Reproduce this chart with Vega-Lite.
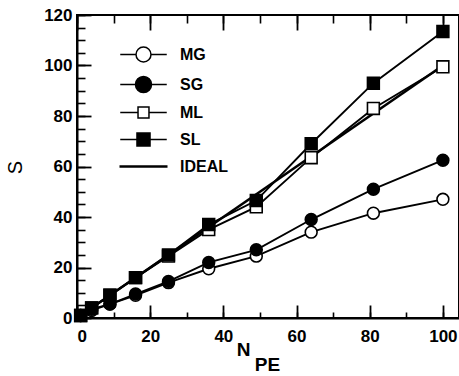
{
  "$schema": "https://vega.github.io/schema/vega-lite/v6.json",
  "width": 382,
  "height": 303,
  "autosize": "none",
  "padding": {"left": 77, "top": 15, "right": 0, "bottom": 58},
  "background": "white",
  "config": {
    "view": {"stroke": "black", "strokeWidth": 2},
    "font": "Liberation Sans",
    "axis": {
      "domainColor": "black",
      "domainWidth": 2,
      "labelColor": "black",
      "labelFont": "Liberation Sans",
      "labelFontSize": 17,
      "labelFontWeight": "bold",
      "titleColor": "black",
      "titleFont": "Liberation Sans",
      "grid": false
    }
  },
  "data": {
    "values": [
      {"series": "MG", "n": 1, "s": 1},
      {"series": "MG", "n": 4, "s": 3},
      {"series": "MG", "n": 9, "s": 5.5},
      {"series": "MG", "n": 16, "s": 9},
      {"series": "MG", "n": 25, "s": 14},
      {"series": "MG", "n": 36, "s": 19.5},
      {"series": "MG", "n": 49, "s": 24.5},
      {"series": "MG", "n": 64, "s": 34},
      {"series": "MG", "n": 81, "s": 41.5},
      {"series": "MG", "n": 100, "s": 47},
      {"series": "SG", "n": 1, "s": 1},
      {"series": "SG", "n": 4, "s": 3.5},
      {"series": "SG", "n": 9, "s": 5.5},
      {"series": "SG", "n": 16, "s": 9.5},
      {"series": "SG", "n": 25, "s": 14.5},
      {"series": "SG", "n": 36, "s": 22},
      {"series": "SG", "n": 49, "s": 27},
      {"series": "SG", "n": 64, "s": 39},
      {"series": "SG", "n": 81, "s": 51},
      {"series": "SG", "n": 100, "s": 62.5},
      {"series": "ML", "n": 1, "s": 1},
      {"series": "ML", "n": 4, "s": 4},
      {"series": "ML", "n": 9, "s": 9},
      {"series": "ML", "n": 16, "s": 16},
      {"series": "ML", "n": 25, "s": 24.5},
      {"series": "ML", "n": 36, "s": 35},
      {"series": "ML", "n": 49, "s": 44},
      {"series": "ML", "n": 64, "s": 63.5},
      {"series": "ML", "n": 81, "s": 83},
      {"series": "ML", "n": 100, "s": 99.5},
      {"series": "SL", "n": 1, "s": 1},
      {"series": "SL", "n": 4, "s": 4},
      {"series": "SL", "n": 9, "s": 9},
      {"series": "SL", "n": 16, "s": 16},
      {"series": "SL", "n": 25, "s": 25},
      {"series": "SL", "n": 36, "s": 37},
      {"series": "SL", "n": 49, "s": 46.5},
      {"series": "SL", "n": 64, "s": 69},
      {"series": "SL", "n": 81, "s": 93},
      {"series": "SL", "n": 100, "s": 113.5},
      {"series": "IDEAL", "n": 1, "s": 1},
      {"series": "IDEAL", "n": 100, "s": 100}
    ]
  },
  "encoding": {
    "x": {"field": "n", "type": "quantitative", "scale": {"domain": [0, 104.4], "nice": false, "zero": false}},
    "y": {"field": "s", "type": "quantitative", "scale": {"domain": [0, 120], "nice": false, "zero": false}}
  },
  "layer": [
    {
      "transform": [{"filter": "datum.series == 'IDEAL'"}],
      "mark": {"type": "line", "color": "black", "strokeWidth": 2.6},
      "encoding": {
        "x": {
          "field": "n", "type": "quantitative",
          "axis": {
            "orient": "bottom",
            "values": [0, 20, 40, 60, 80, 100],
            "ticks": false,
            "labelPadding": 10,
            "title": "N",
            "titleFontSize": 19,
            "titleFontWeight": "bold",
            "titleAlign": "center",
            "titleBaseline": "alphabetic",
            "titleX": 166,
            "titleY": 37
          }
        },
        "y": {
          "field": "s", "type": "quantitative",
          "axis": {
            "orient": "left",
            "values": [0, 20, 40, 60, 80, 100, 120],
            "ticks": false,
            "labelPadding": 5,
            "title": "S",
            "titleFontSize": 20,
            "titleFontWeight": "normal",
            "titleAlign": "center",
            "titleBaseline": "middle",
            "titleX": -62,
            "titleY": 152
          }
        }
      }
    },
    {
      "transform": [{"filter": "datum.series != 'IDEAL'"}],
      "mark": {"type": "line", "color": "black", "strokeWidth": 1.9},
      "encoding": {
        "detail": {"field": "series"},
        "x": {
          "field": "n", "type": "quantitative",
          "axis": {"orient": "top", "offset": -303, "tickCount": 5, "tickSize": 13, "tickColor": "black", "tickWidth": 1.8, "labels": false, "domain": false, "title": " "}
        },
        "y": {
          "field": "s", "type": "quantitative",
          "axis": {"orient": "right", "offset": -382, "tickCount": 6, "tickSize": 14, "tickColor": "black", "tickWidth": 1.8, "labels": false, "domain": false, "title": " "}
        }
      }
    },
    {
      "transform": [{"filter": "datum.series != 'IDEAL'"}],
      "mark": {"type": "point", "filled": true, "stroke": "black", "strokeWidth": 1.6, "size": 140, "opacity": 1},
      "encoding": {
        "x": {
          "field": "n", "type": "quantitative",
          "axis": {"orient": "top", "offset": -303, "tickCount": 10, "tickSize": 6, "tickColor": "black", "tickWidth": 1.6, "labels": false, "domain": false, "title": " "}
        },
        "y": {
          "field": "s", "type": "quantitative",
          "axis": {"orient": "right", "offset": -382, "tickCount": 24, "tickSize": 8, "tickColor": "black", "tickWidth": 1.6, "labels": false, "domain": false, "title": " "}
        },
        "shape": {
          "field": "series", "type": "nominal",
          "scale": {"domain": ["MG", "SG", "ML", "SL"], "range": ["circle", "circle", "square", "square"]},
          "legend": null
        },
        "fill": {
          "field": "series", "type": "nominal",
          "scale": {"domain": ["MG", "SG", "ML", "SL"], "range": ["white", "black", "white", "black"]},
          "legend": null
        }
      }
    },
    {
      "transform": [{"filter": "false"}],
      "mark": {"type": "point", "filled": true, "stroke": "black", "strokeWidth": 1.5, "opacity": 1},
      "encoding": {
        "x": {
          "field": "n", "type": "quantitative",
          "axis": {"orient": "bottom", "offset": -303, "tickCount": 5, "tickSize": 15, "tickColor": "black", "tickWidth": 1.8, "labels": false, "domain": false, "title": " "}
        },
        "y": {"field": "s", "type": "quantitative", "axis": null},
        "shape": {
          "field": "series", "type": "nominal",
          "scale": {
            "domain": ["MG", "SG", "ML", "SL", "IDEAL"],
            "range": [
              "M-3.1,0L-1,0M1,0L3.1,0M-1,0A1,1,0,1,0,1,0A1,1,0,1,0,-1,0Z",
              "M-3.1,0L-1.07,0M1.07,0L3.1,0M-1.07,0A1.07,1.07,0,1,0,1.07,0A1.07,1.07,0,1,0,-1.07,0Z",
              "M-3.1,0L-0.73,0M0.73,0L3.1,0M-0.73,-0.73L0.73,-0.73L0.73,0.73L-0.73,0.73Z",
              "M-3.1,0L-0.87,0M0.87,0L3.1,0M-0.87,-0.87L0.87,-0.87L0.87,0.87L-0.87,0.87Z",
              "M-3.1,-0.08L3.1,-0.08L3.1,0.08L-3.1,0.08Z"
            ]
          },
          "legend": {
            "orient": "none",
            "legendX": 58,
            "legendY": 31,
            "title": null,
            "padding": 0,
            "symbolSize": 225,
            "symbolStrokeColor": "black",
            "symbolStrokeWidth": 1.5,
            "symbolOpacity": 1,
            "labelFont": "Liberation Sans",
            "labelFontSize": 16,
            "labelFontWeight": "bold",
            "labelColor": "black",
            "labelOffset": 28,
            "rowPadding": 8,
            "encode": {"symbols": {"update": {"stroke": {"value": "black"}, "strokeWidth": {"value": 1.5}, "opacity": {"value": 1}, "fillOpacity": {"value": 1}}}}
          }
        },
        "fill": {
          "field": "series", "type": "nominal",
          "scale": {"domain": ["MG", "SG", "ML", "SL", "IDEAL"], "range": ["white", "black", "white", "black", "black"]},
          "legend": {
            "orient": "none",
            "legendX": 58,
            "legendY": 31,
            "title": null,
            "padding": 0,
            "symbolSize": 225,
            "symbolStrokeColor": "black",
            "symbolStrokeWidth": 1.5,
            "symbolOpacity": 1,
            "labelFont": "Liberation Sans",
            "labelFontSize": 16,
            "labelFontWeight": "bold",
            "labelColor": "black",
            "labelOffset": 28,
            "rowPadding": 8,
            "encode": {"symbols": {"update": {"stroke": {"value": "black"}, "strokeWidth": {"value": 1.5}, "opacity": {"value": 1}, "fillOpacity": {"value": 1}}}}
          }
        }
      }
    },
    {
      "transform": [{"filter": "false"}],
      "mark": {"type": "point", "opacity": 0},
      "encoding": {
        "x": {
          "field": "n", "type": "quantitative",
          "axis": {"orient": "bottom", "offset": -303, "tickCount": 10, "tickSize": 8, "tickColor": "black", "tickWidth": 1.6, "labels": false, "domain": false, "title": " "}
        },
        "y": {"field": "s", "type": "quantitative", "axis": null}
      }
    },
    {
      "transform": [{"filter": "false"}],
      "mark": {"type": "point", "opacity": 0},
      "encoding": {
        "x": {
          "field": "n", "type": "quantitative",
          "axis": {
            "orient": "bottom", "ticks": false, "labels": false, "domain": false,
            "title": "PE",
            "titleFontSize": 19,
            "titleFontWeight": "bold",
            "titleAlign": "center",
            "titleBaseline": "alphabetic",
            "titleX": 190,
            "titleY": 52
          }
        },
        "y": {"field": "s", "type": "quantitative", "axis": null}
      }
    }
  ],
  "resolve": {
    "axis": {"x": "independent", "y": "independent"},
    "scale": {"shape": "independent", "fill": "independent"}
  }
}
